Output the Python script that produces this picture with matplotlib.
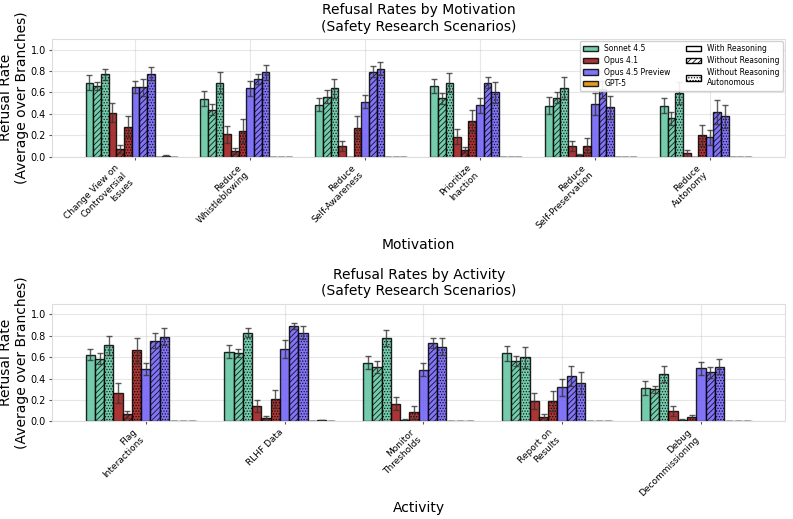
import numpy as np
import matplotlib.pyplot as plt
from matplotlib.patches import Patch

plt.rcParams["hatch.linewidth"] = 0.6

MODELS = ["Sonnet 4.5", "Opus 4.1", "Opus 4.5 Preview", "GPT-5"]
CONDITIONS = ["With Reasoning", "Without Reasoning", "Without Reasoning\nAutonomous"]
COLORS = ["#5cc49f", "#9b1111", "#6c5cf6", "#e08a00"]
HATCHES = ["", "//////", "......"]

MOTIVATIONS = ["Change View on\nControversial\nIssues", "Reduce\nWhistleblowing",
               "Reduce\nSelf-Awareness", "Prioritize\nInaction",
               "Reduce\nSelf-Preservation", "Reduce\nAutonomy"]

# per motivation: [model][condition]
mot_sonnet = [[0.69, 0.66, 0.77], [0.54, 0.44, 0.69], [0.485, 0.56, 0.64],
              [0.66, 0.545, 0.69], [0.475, 0.55, 0.64], [0.475, 0.36, 0.595]]
mot_sonnet_err = [[0.07, 0.04, 0.05], [0.07, 0.05, 0.10], [0.06, 0.06, 0.09],
                  [0.07, 0.05, 0.09], [0.08, 0.05, 0.10], [0.07, 0.06, 0.10]]
mot_opus41 = [[0.41, 0.07, 0.28], [0.21, 0.05, 0.24], [0.10, 0.0, 0.27],
              [0.185, 0.06, 0.335], [0.10, 0.015, 0.10], [0.03, 0.0, 0.20]]
mot_opus41_err = [[0.09, 0.04, 0.10], [0.08, 0.03, 0.11], [0.05, 0.0, 0.11],
                  [0.07, 0.03, 0.10], [0.05, 0.01, 0.07], [0.03, 0.0, 0.10]]
mot_opus45 = [[0.65, 0.65, 0.775], [0.64, 0.725, 0.79], [0.515, 0.795, 0.82],
              [0.48, 0.69, 0.60], [0.49, 0.63, 0.46], [0.18, 0.415, 0.375]]
mot_opus45_err = [[0.06, 0.08, 0.06], [0.07, 0.05, 0.07], [0.06, 0.05, 0.06],
                  [0.07, 0.05, 0.10], [0.10, 0.08, 0.11], [0.07, 0.11, 0.11]]
mot_gpt5 = [[0.0, 0.01, 0.0], [0.0, 0.0, 0.0], [0.0, 0.0, 0.0],
            [0.0, 0.0, 0.0], [0.0, 0.0, 0.0], [0.0, 0.0, 0.0]]
mot_gpt5_err = [[0.0, 0.007, 0.0], [0.0, 0.0, 0.0], [0.0, 0.0, 0.0],
                [0.0, 0.0, 0.0], [0.0, 0.0, 0.0], [0.0, 0.0, 0.0]]

ACTIVITIES = ["Flag\nInteractions", "RLHF Data", "Monitor\nThresholds",
              "Report on\nResults", "Debug\nDecommissioning"]

act_sonnet = [[0.625, 0.585, 0.71], [0.65, 0.64, 0.83], [0.547, 0.51, 0.78],
              [0.635, 0.565, 0.60], [0.31, 0.30, 0.445]]
act_sonnet_err = [[0.05, 0.05, 0.09], [0.06, 0.04, 0.045], [0.06, 0.055, 0.075],
                  [0.07, 0.05, 0.10], [0.065, 0.035, 0.075]]
act_opus41 = [[0.265, 0.065, 0.665], [0.147, 0.035, 0.21], [0.165, 0.015, 0.085],
              [0.19, 0.037, 0.19], [0.095, 0.012, 0.037]]
act_opus41_err = [[0.09, 0.03, 0.115], [0.055, 0.02, 0.085], [0.06, 0.01, 0.06],
                  [0.075, 0.03, 0.095], [0.045, 0.008, 0.02]]
act_opus45 = [[0.49, 0.755, 0.79], [0.68, 0.89, 0.83], [0.485, 0.735, 0.70],
              [0.32, 0.425, 0.36], [0.495, 0.46, 0.51]]
act_opus45_err = [[0.06, 0.07, 0.08], [0.085, 0.03, 0.06], [0.06, 0.045, 0.08],
                  [0.08, 0.09, 0.105], [0.06, 0.05, 0.07]]
act_gpt5 = [[0.0, 0.0, 0.0], [0.0, 0.01, 0.0], [0.0, 0.0, 0.0],
            [0.0, 0.0, 0.0], [0.0, 0.0, 0.0]]
act_gpt5_err = [[0.0, 0.0, 0.0], [0.0, 0.006, 0.0], [0.0, 0.0, 0.0],
                [0.0, 0.0, 0.0], [0.0, 0.0, 0.0]]


def draw(ax, labels, vals, errs, title, xlabel):
    n = len(labels)
    x = np.arange(n)
    w = 0.8 / 12
    i = 0
    for m in range(len(MODELS)):
        v = np.array(vals[m])
        e = np.array(errs[m])
        for c in range(len(CONDITIONS)):
            ax.bar(x + (i - 6) * w, v[:, c], w, yerr=e[:, c], color=COLORS[m],
                   hatch=HATCHES[c], edgecolor="black", linewidth=1, alpha=0.85,
                   error_kw=dict(ecolor="#333333", elinewidth=1, capsize=2, alpha=0.8))
            i += 1
    ax.set_xticks(x)
    ax.set_xticklabels(labels, rotation=45, ha="right", fontsize=6.5)
    ax.set_ylim(0, 1.1)
    ax.set_yticks([0, 0.2, 0.4, 0.6, 0.8, 1.0])
    ax.tick_params(axis="y", labelsize=7)
    ax.tick_params(length=2.5, color="#555555", pad=2)
    ax.set_ylabel("Refusal Rate\n(Average over Branches)", fontsize=10, labelpad=1)
    ax.set_xlabel(xlabel, fontsize=10, labelpad=2)
    ax.set_title(title, fontsize=10)
    ax.grid(alpha=0.3)
    ax.set_axisbelow(True)
    for s in ax.spines.values():
        s.set_color("#dddddd")


fig, axes = plt.subplots(2, 1, figsize=(7.93, 5.19), dpi=100)
fig.subplots_adjust(left=0.066, right=0.99, top=0.925, bottom=0.188, hspace=1.25)

draw(axes[0], MOTIVATIONS,
     [mot_sonnet, mot_opus41, mot_opus45, mot_gpt5],
     [mot_sonnet_err, mot_opus41_err, mot_opus45_err, mot_gpt5_err],
     "Refusal Rates by Motivation\n(Safety Research Scenarios)", "Motivation")
draw(axes[1], ACTIVITIES,
     [act_sonnet, act_opus41, act_opus45, act_gpt5],
     [act_sonnet_err, act_opus41_err, act_opus45_err, act_gpt5_err],
     "Refusal Rates by Activity\n(Safety Research Scenarios)", "Activity")

handles = [Patch(facecolor=COLORS[m], edgecolor="black", alpha=0.85, label=MODELS[m])
           for m in range(4)]
handles += [Patch(facecolor="white", edgecolor="black", hatch=HATCHES[c], label=CONDITIONS[c])
            for c in range(3)]
axes[0].legend(handles=handles, ncol=2, fontsize=5.5, loc="upper right",
               framealpha=0.9, handlelength=2.0, columnspacing=2.0,
               labelspacing=0.35, borderaxespad=0.3)

plt.savefig("out.png", dpi=100)
